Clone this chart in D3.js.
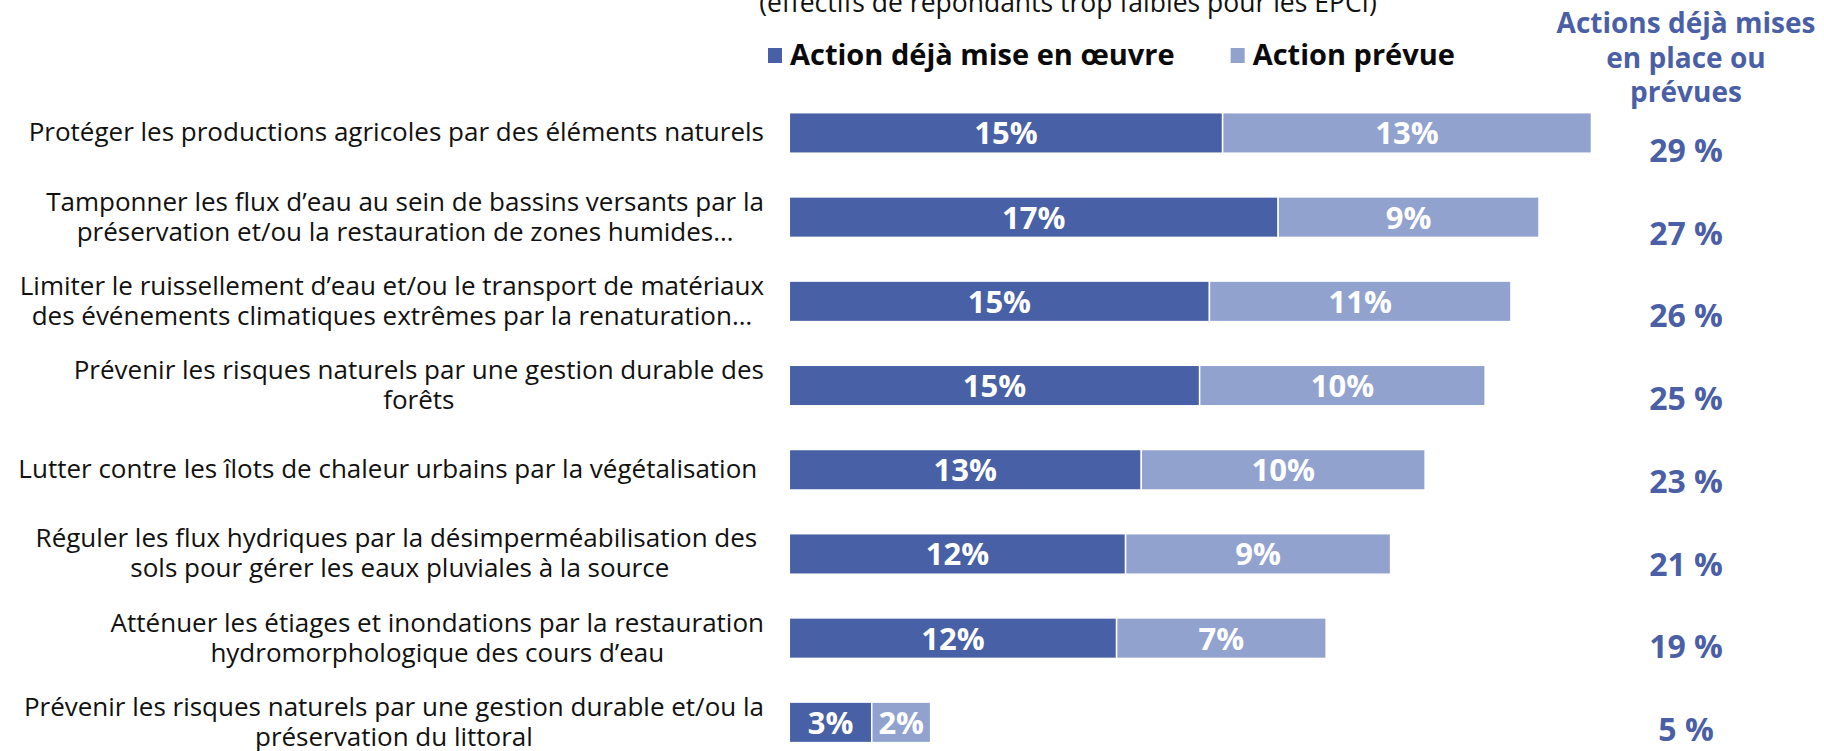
<!DOCTYPE html>
<html lang="fr">
<head>
<meta charset="utf-8">
<script src="https://cdn.jsdelivr.net/npm/d3@7"></script>
<style>
  html, body { margin: 0; padding: 0; background: #fff; }
  #chart { width: 1824px; height: 751px; overflow: hidden; }
  text { font-family: "Open Sans", "Noto Sans", sans-serif; }
  .cat { font-size: 26px; fill: #111; white-space: pre; }
  .note { font-size: 26.5px; fill: #111; }
  .legend-text { font-size: 29px; font-weight: 700; fill: #0a0a0a; }
  .seg-label { font-size: 31px; font-weight: 700; fill: #fff; }
  .head { font-size: 28px; font-weight: 700; fill: #4a5fa5; }
  .total { font-size: 32px; font-weight: 700; fill: #4a5fa5; }
</style>
</head>
<body>
<div id="chart"></div>
<script>
// Barres empilées horizontales : actions déjà mises en œuvre / prévues

const CATEGORIES = [
  ["Protéger les productions agricoles par des éléments naturels"],
  ["Tamponner les flux d’eau au sein de bassins versants par la", "préservation et/ou la restauration de zones humides…"],
  ["Limiter le ruissellement d’eau et/ou le transport de matériaux", "des événements climatiques extrêmes par la renaturation…"],
  ["Prévenir les risques naturels par une gestion durable des", "forêts"],
  ["Lutter contre les îlots de chaleur urbains par la végétalisation "],
  ["Réguler les flux hydriques par la désimperméabilisation des ", "sols pour gérer les eaux pluviales à la source"],
  ["Atténuer les étiages et inondations par la restauration", "hydromorphologique des cours d’eau"],
  ["Prévenir les risques naturels par une gestion durable et/ou la", "préservation du littoral"]
];

// valeurs en %
const DEJA = [15.45, 17.43, 14.98, 14.63, 12.55, 11.99, 11.67, 2.94];
const PREVUE = [13.15, 9.3, 10.75, 10.18, 10.12, 9.45, 7.47, 2.1];
const TOTALS = [29, 27, 26, 25, 23, 21, 19, 5];

const SERIES = ["Action déjà mise en œuvre", "Action prévue"];
const COLORS = ["#4860a5", "#92a2cf"];
const HEADER = ["Actions déjà mises", "en place ou", "prévues"];
const NOTE = "(effectifs de répondants trop faibles pour les EPCI)";

(function () {
  const W = 1824, H = 751;
  const labelRight = 764;

  const svg = d3.select("#chart").append("svg")
    .attr("width", W)
    .attr("height", H)
    .attr("viewBox", `0 0 ${W} ${H}`);

  const idx = d3.range(CATEGORIES.length);

  const y = d3.scaleBand()
    .domain(idx)
    .range([112.7, 742.6])
    .paddingInner(0.519)
    .paddingOuter(0);

  const x = d3.scaleLinear()
    .domain([0, 36])
    .range([789.3, 1799]);

  // colonne de droite : légèrement décalée par rapport aux barres
  const yTot = d3.scalePoint()
    .domain(idx)
    .range([162, 741]);

  const rows = idx.map(i => ({ i, deja: DEJA[i], prevue: PREVUE[i] }));
  const stacked = d3.stack().keys(["deja", "prevue"])(rows);

  // --- Note du haut (coupée comme dans l'original) ---
  svg.append("text")
    .attr("class", "note")
    .attr("x", 1068)
    .attr("y", 12)
    .attr("text-anchor", "middle")
    .text(NOTE);

  // --- Légende ---
  const legend = svg.append("g").attr("class", "legend");
  let lx = 768;
  SERIES.forEach((s, k) => {
    legend.append("rect")
      .attr("x", lx)
      .attr("y", 48)
      .attr("width", 14)
      .attr("height", 15)
      .attr("fill", COLORS[k]);
    const t = legend.append("text")
      .attr("class", "legend-text")
      .attr("x", lx + 22)
      .attr("y", 65)
      .text(s);
    lx += 22 + t.node().getComputedTextLength() + 56;
  });

  // --- Barres ---
  const layers = svg.append("g").attr("class", "bars")
    .selectAll("g")
    .data(stacked)
    .enter()
    .append("g")
    .attr("fill", (_, k) => COLORS[k]);

  layers.selectAll("rect")
    .data(d => d)
    .enter()
    .append("rect")
    .attr("x", d => x(d[0]))
    .attr("y", d => y(d.data.i))
    .attr("width", d => x(d[1]) - x(d[0]))
    .attr("height", y.bandwidth())
    .attr("stroke", "#fff")
    .attr("stroke-width", 1.5);

  layers.selectAll("text")
    .data(d => d)
    .enter()
    .append("text")
    .attr("class", "seg-label")
    .attr("text-anchor", "middle")
    .attr("x", d => (x(d[0]) + x(d[1])) / 2)
    .attr("y", d => y(d.data.i) + y.bandwidth() / 2 + 11.5)
    .text(d => Math.round(d[1] - d[0]) + "%");

  // --- Libellés (blocs centrés, alignés à droite) ---
  const lh = 30;
  const labels = svg.append("g").attr("class", "labels");
  CATEGORIES.forEach((lines, i) => {
    const cy = y(i) + y.bandwidth() / 2;
    const g = labels.append("g");
    const texts = lines.map((line, j) => g.append("text")
      .attr("class", "cat")
      .attr("text-anchor", "middle")
      .attr("y", cy + 8.5 + (j - (lines.length - 1) / 2) * lh)
      .text(line));
    const maxW = d3.max(texts, t => t.node().getComputedTextLength());
    texts.forEach(t => t.attr("x", labelRight - maxW / 2));
  });

  // --- En-tête et totaux à droite ---
  const hx = 1686;
  svg.append("g").selectAll("text")
    .data(HEADER)
    .enter()
    .append("text")
    .attr("class", "head")
    .attr("text-anchor", "middle")
    .attr("x", hx)
    .attr("y", (_, j) => 33 + j * 34.5)
    .text(d => d);

  svg.append("g").selectAll("text")
    .data(TOTALS)
    .enter()
    .append("text")
    .attr("class", "total")
    .attr("text-anchor", "middle")
    .attr("x", hx)
    .attr("y", (_, i) => yTot(i))
    .text(d => d + " %");
})();
</script>
</body>
</html>
